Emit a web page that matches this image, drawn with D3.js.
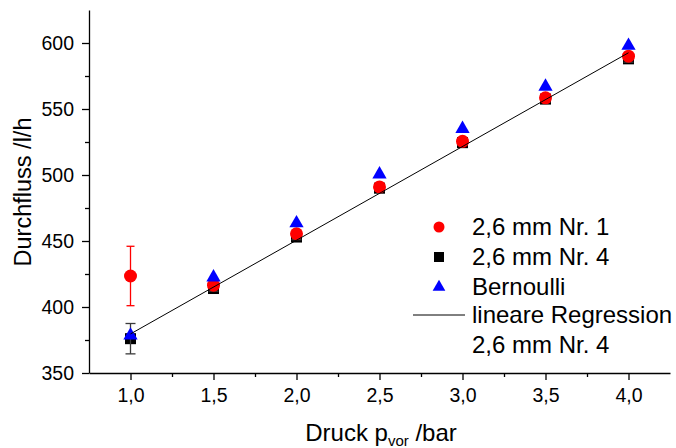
<!DOCTYPE html>
<html lang="de">
<head>
<meta charset="UTF-8">
<title>Durchfluss</title>
<script src="https://cdnjs.cloudflare.com/ajax/libs/d3/7.8.5/d3.min.js"></script>
<style>
    body { margin: 0; background: #fff; }
    svg { display: block; font-family: "Liberation Sans", Arial, sans-serif; }
</style>
</head>
<body>
<svg width="676" height="448"></svg>
<script>
    // Data
    const pressure = [1.0, 1.5, 2.0, 2.5, 3.0, 3.5, 4.0];
    const nr1 = [423.5, 416.5, 455.5, 491, 525.5, 558.5, 590];
    const nr1Err = [22.5, 2, 2, 2, 2, 2.5, 2.5];
    const nr4 = [376, 414, 453, 490, 524.5, 557.5, 588];
    const nr4Err = [11.5, 2, 2, 2, 2, 2.5, 2.5];
    const bernoulli = [378.5, 422.5, 463.5, 500.5, 535, 567, 598];
    const fitX = [1.0, 4.0];
    const fitY = [379.6, 592.6];
    const xTicks = [1.0, 1.5, 2.0, 2.5, 3.0, 3.5, 4.0];
    const xMinor = [1.25, 1.75, 2.25, 2.75, 3.25, 3.75];
    const yTicks = [350, 400, 450, 500, 550, 600];
    const yMinor = [375, 425, 475, 525, 575];
    const legendLabels = ["2,6 mm Nr. 1", "2,6 mm Nr. 4", "Bernoulli", "lineare Regression", "2,6 mm Nr. 4"];

    const svg = d3.select("svg");
    const x = d3.scaleLinear().domain([0.75, 4.25]).range([89, 670]);
    const y = d3.scaleLinear().domain([350, 625]).range([373, 10]);
    const fmt = d => d3.format(".1f")(d).replace(".", ",");

    // axes
    const xAxis = svg.append("g").attr("transform", "translate(0,373)");
    xAxis.call(d3.axisBottom(x).tickValues(xTicks).tickFormat(fmt).tickSize(7).tickPadding(8).tickSizeOuter(0));
    xAxis.append("g").call(d3.axisBottom(x).tickValues(xMinor).tickFormat("").tickSize(4).tickSizeOuter(0))
        .select(".domain").remove();

    const yAxis = svg.append("g").attr("transform", "translate(89,0)");
    yAxis.call(d3.axisLeft(y).tickValues(yTicks).tickSize(7).tickPadding(8).tickSizeOuter(0));
    yAxis.append("g").call(d3.axisLeft(y).tickValues(yMinor).tickFormat("").tickSize(4).tickSizeOuter(0))
        .select(".domain").remove();

    svg.selectAll(".tick text").attr("font-size", 19.5).attr("font-family", "Liberation Sans, Arial, sans-serif").attr("fill", "#000");
    svg.selectAll(".domain, .tick line").attr("stroke", "#000").attr("stroke-width", 1.3);

    // axis titles
    svg.append("text")
        .attr("transform", "translate(31,192) rotate(-90)")
        .attr("text-anchor", "middle")
        .attr("font-size", 23.5)
        .text("Durchfluss /l/h");

    const xt = svg.append("text")
        .attr("x", 381).attr("y", 441)
        .attr("text-anchor", "middle")
        .attr("font-size", 24);
    xt.append("tspan").text("Druck p");
    xt.append("tspan").attr("font-size", 15).attr("dy", 5).text("vor");
    xt.append("tspan").attr("dy", -5).text(" /bar");

    // error bars
    function errorBars(vals, errs, color, cap) {
        const g = svg.append("g").attr("stroke", color).attr("stroke-width", 1.3);
        pressure.forEach((p, i) => {
            const cx = x(p), lo = y(vals[i] - errs[i]), hi = y(vals[i] + errs[i]);
            g.append("line").attr("x1", cx).attr("x2", cx).attr("y1", lo).attr("y2", hi);
            g.append("line").attr("x1", cx - cap).attr("x2", cx + cap).attr("y1", lo).attr("y2", lo);
            g.append("line").attr("x1", cx - cap).attr("x2", cx + cap).attr("y1", hi).attr("y2", hi);
        });
    }

    // squares (Nr. 4)
    svg.append("g").selectAll("rect")
        .data(pressure.map((p, i) => [p, nr4[i]]))
        .join("rect")
        .attr("x", d => x(d[0]) - 5.5).attr("y", d => y(d[1]) - 5.5)
        .attr("width", 11).attr("height", 11)
        .attr("fill", "#000");
    errorBars(nr4, nr4Err, "#3a3a3a", 5);

    // circles (Nr. 1)
    errorBars(nr1, nr1Err, "#ff0000", 4);
    svg.append("g").selectAll("circle")
        .data(pressure.map((p, i) => [p, nr1[i]]))
        .join("circle")
        .attr("cx", d => x(d[0])).attr("cy", d => y(d[1]))
        .attr("r", 6.5)
        .attr("fill", "#ff0000");

    // triangles (Bernoulli)
    const tri = d3.symbol().type(d3.symbolTriangle).size(88);
    svg.append("g").selectAll("path")
        .data(pressure.map((p, i) => [p, bernoulli[i]]))
        .join("path")
        .attr("d", tri)
        .attr("transform", d => `translate(${x(d[0])},${y(d[1])})`)
        .attr("fill", "#0000ff");

    // regression line
    svg.append("path")
        .datum(fitX.map((v, i) => [v, fitY[i]]))
        .attr("d", d3.line().x(d => x(d[0])).y(d => y(d[1])))
        .attr("fill", "none")
        .attr("stroke", "#000")
        .attr("stroke-width", 1);

    // legend
    const lg = svg.append("g").attr("font-size", 24);
    const rows = [227, 257, 287, 315, 345];
    legendLabels.forEach((t, i) => {
        lg.append("text").attr("x", 472).attr("y", rows[i]).attr("dy", "0.35em").text(t);
    });
    lg.append("circle").attr("cx", 439).attr("cy", rows[0]).attr("r", 5.5).attr("fill", "#ff0000");
    lg.append("rect").attr("x", 434).attr("y", rows[1] - 5).attr("width", 10).attr("height", 10).attr("fill", "#000");
    lg.append("path").attr("d", d3.symbol().type(d3.symbolTriangle).size(70)).attr("transform", `translate(439,${rows[2]})`).attr("fill", "#0000ff");
    lg.append("line").attr("x1", 413).attr("x2", 465).attr("y1", rows[3]).attr("y2", rows[3]).attr("stroke", "#000").attr("stroke-width", 1);
</script>
</body>
</html>
